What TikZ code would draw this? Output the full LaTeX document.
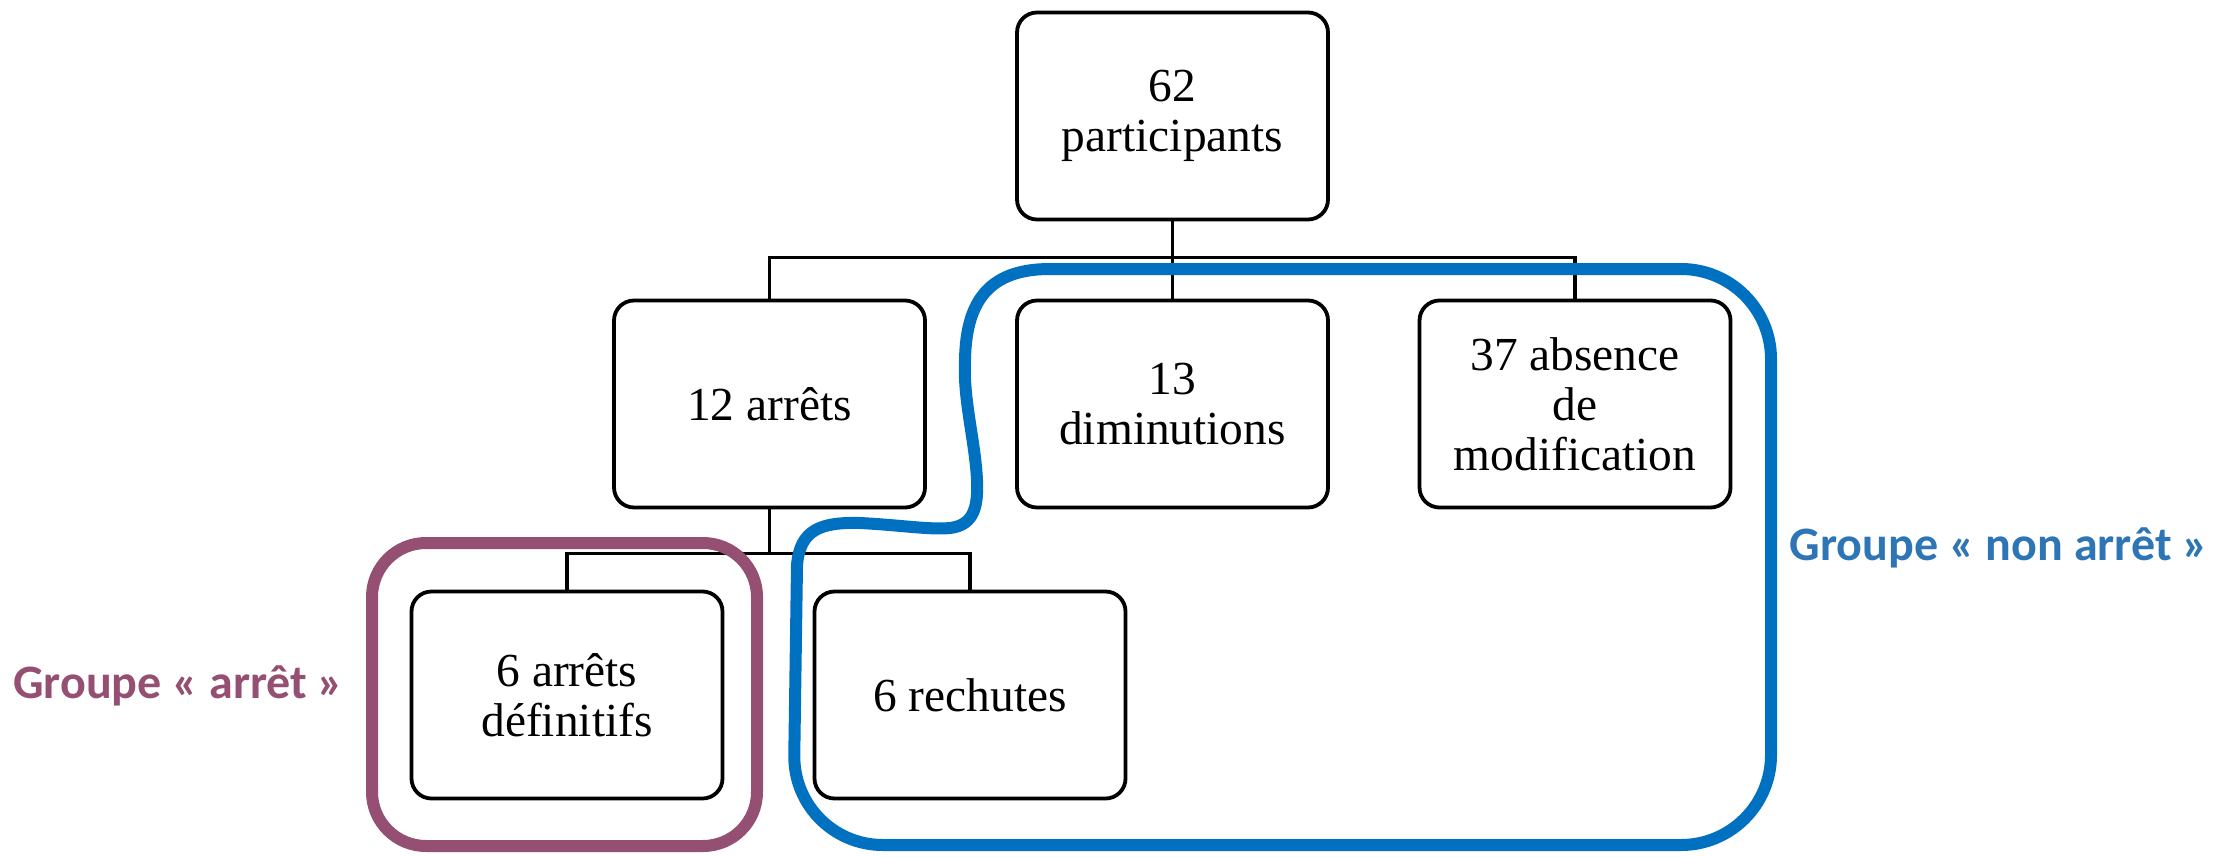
\documentclass[tikz,border=0pt]{standalone}
\usepackage{fontspec}
\setmainfont{Liberation Serif}
\newfontfamily\grpfont{Carlito}
\definecolor{grpPurple}{HTML}{954F72}
\definecolor{grpLine}{HTML}{0070C0}
\definecolor{grpText}{HTML}{2E75B6}
\begin{document}
\begin{tikzpicture}[x=0.5pt,y=-0.5pt,
  box/.style={draw,line width=1.9pt,rounded corners=10pt,minimum width=155.5pt,
    minimum height=103.5pt,align=center,inner sep=0pt,
    font=\fontsize{23.7}{25}\selectfont},
  conn/.style={line width=1.8pt},
  grplabel/.style={font=\grpfont\bfseries\fontsize{24}{28}\selectfont,anchor=base,inner sep=0pt},
  grpframe/.style={line width=6pt,line cap=round,line join=round}]
\useasboundingbox (0,0) rectangle (2214,856);

\node[box] (top) at (1172.5,116) {62\\participants};
\node[box] (a12) at (769.5,404) {12 arrêts};
\node[box] (dim) at (1172.5,404) {13\\diminutions};
\node[box] (abs) at (1575,404) {37 absence\\de\\modification};
\node[box] (def) at (567,695) {6 arrêts\\définitifs};
\node[box] (rech) at (970,695) {6 rechutes};

\draw[conn] (top.south) -- (dim.north);
\draw[conn] (a12.north) -- ++(0,-41) coordinate (j1) -| (abs.north);
\draw[conn] (a12.south) -- ++(0,44) coordinate (j2);
\draw[conn] (def.north) |- (j2) -| (rech.north);

\draw[grpframe,grpPurple,rounded corners=27pt] (372,543) rectangle (757,846);
\draw[grpframe,grpLine] (797,565) .. controls (800,530) and (820,522) .. (860,523)
  .. controls (900,525) and (930,530) .. (950,528)
  .. controls (975,525) and (978,505) .. (977,480)
  .. controls (975,440) and (963,400) .. (965,360)
  .. controls (966,300) and (990,269) .. (1050,269)
  [rounded corners=45pt] -- (1771,269) -- (1771,845) -- (793,845) -- (797,565);

\node[grplabel,text=grpPurple] (lblA) at (178.5,698) {Groupe « arrêt »};
\node[grplabel,text=grpText] (lblB) at (1999,560) {Groupe « non arrêt »};
\end{tikzpicture}
\end{document}
